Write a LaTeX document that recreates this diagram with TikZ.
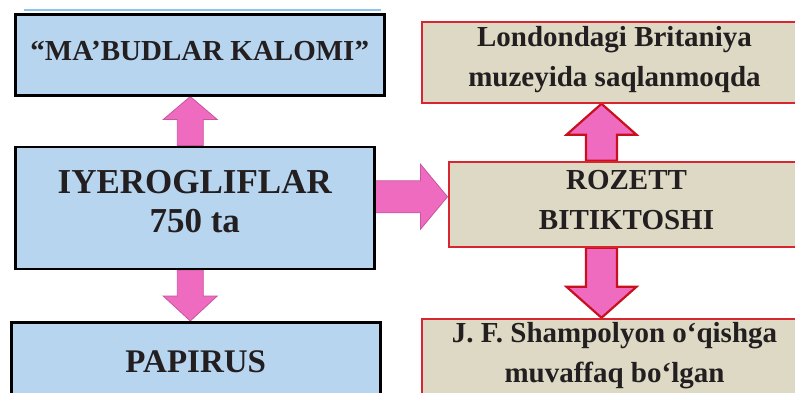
\documentclass[tikz,border=0pt]{standalone}
\usepackage{fontspec}
\setmainfont{Liberation Serif}
\usetikzlibrary{positioning,calc}

\definecolor{boxblue}{HTML}{B8D5F0}
\definecolor{boxtan}{HTML}{DDD9C4}
\definecolor{boxred}{HTML}{D7262F}
\definecolor{arrowpink}{HTML}{EE6BBF}
\definecolor{arrowrim}{HTML}{C8559F}
\definecolor{arrowred}{HTML}{C8101E}
\definecolor{inkdark}{HTML}{231F20}
\definecolor{lineblue}{HTML}{8EC3EC}

\pgfdeclarelayer{background}
\pgfsetlayers{background,main}

% fat arrow: style, from, to, angle, half shaft, half head, head length
\newcommand{\blockarrow}[7]{%
  \path[#1] let \p1=(#2), \p2=(#3),
      \n1={(\x2-\x1)*cos(#4)+(\y2-\y1)*sin(#4)} in
    [shift={(\p1)}, rotate=#4]
    (0,-#5) -- (\n1-#7,-#5) -- (\n1-#7,-#6) -- (\n1,0)
    -- (\n1-#7,#6) -- (\n1-#7,#5) -- (0,#5) -- cycle;
}

\begin{document}
\begin{tikzpicture}[
        x=1pt, y=-1pt,
        every node/.style={inner sep=0pt, align=center, text=inkdark, text depth=0pt},
        bluebox/.style={draw=black, line width=2.5pt, fill=boxblue},
        tanbox/.style={draw=boxred, line width=2pt, fill=boxtan,
            minimum width=386pt, font=\bfseries\fontsize{29}{40}\selectfont},
        pinkarrow/.style={fill=arrowpink, draw=arrowrim, line width=0.8pt},
        redarrow/.style={fill=arrowpink, draw=arrowred, line width=2.2pt}
    ]
    \useasboundingbox (0,0) rectangle (795,392);
    \clip (0,0) rectangle (795,392);

    \draw[lineblue, line width=1.5pt] (24,10) -- (381,10);

    % Nodes
    \node[bluebox, anchor=north west, minimum width=369pt, minimum height=81pt,
        text height=12pt, font=\bfseries\fontsize{29}{35}\selectfont] (kalom) at (14,13)
        {“MA’BUDLAR KALOMI”};
    \node[bluebox, below right=49pt and 0pt of kalom.south west,
        minimum width=359pt, minimum height=122pt, text height=50pt,
        font=\bfseries\fontsize{35}{39}\selectfont] (iyer)
        {IYEROGLIFLAR \\ 750 ta};
    \node[bluebox, below right=51pt and -4pt of iyer.south west,
        minimum width=369pt, minimum height=86pt, text height=14pt,
        font=\bfseries\fontsize{33}{38}\selectfont] (papirus) {PAPIRUS};

    \node[tanbox, right=72pt of iyer, yshift=3.5pt, minimum width=356pt,
        minimum height=85pt, text height=51pt] (rozett) {ROZETT \\ BITIKTOSHI};
    \node[tanbox, above right=57pt and -27pt of rozett.north west,
        minimum height=81pt, text height=48pt] (london)
        {Londondagi Britaniya \\ muzeyida saqlanmoqda};
    \node[tanbox, below right=70pt and -27pt of rozett.south west,
        minimum height=84pt, text height=44pt] (shamp)
        {J. F. Shampolyon o‘qishga \\ muvaffaq bo‘lgan};

    % Arrows
    \begin{pgfonlayer}{background}
      \blockarrow{pinkarrow}{$(iyer.north)+(-4.5,0)$}{kalom.south}{90}{13}{27}{23}
      \blockarrow{pinkarrow}{$(iyer.south)+(-4.5,0)$}{papirus.north}{-90}{13}{27}{25}
      \blockarrow{pinkarrow}{$(iyer.east)+(0,-11)$}{rozett.west}{0}{16}{32.5}{27}
      \blockarrow{redarrow}{$(rozett.north)+(-25,0)$}{london.south}{90}{15.5}{35}{31}
      \blockarrow{redarrow}{$(rozett.south)+(-25,0)$}{shamp.north}{-90}{15.5}{35}{31}
    \end{pgfonlayer}
\end{tikzpicture}
\end{document}
